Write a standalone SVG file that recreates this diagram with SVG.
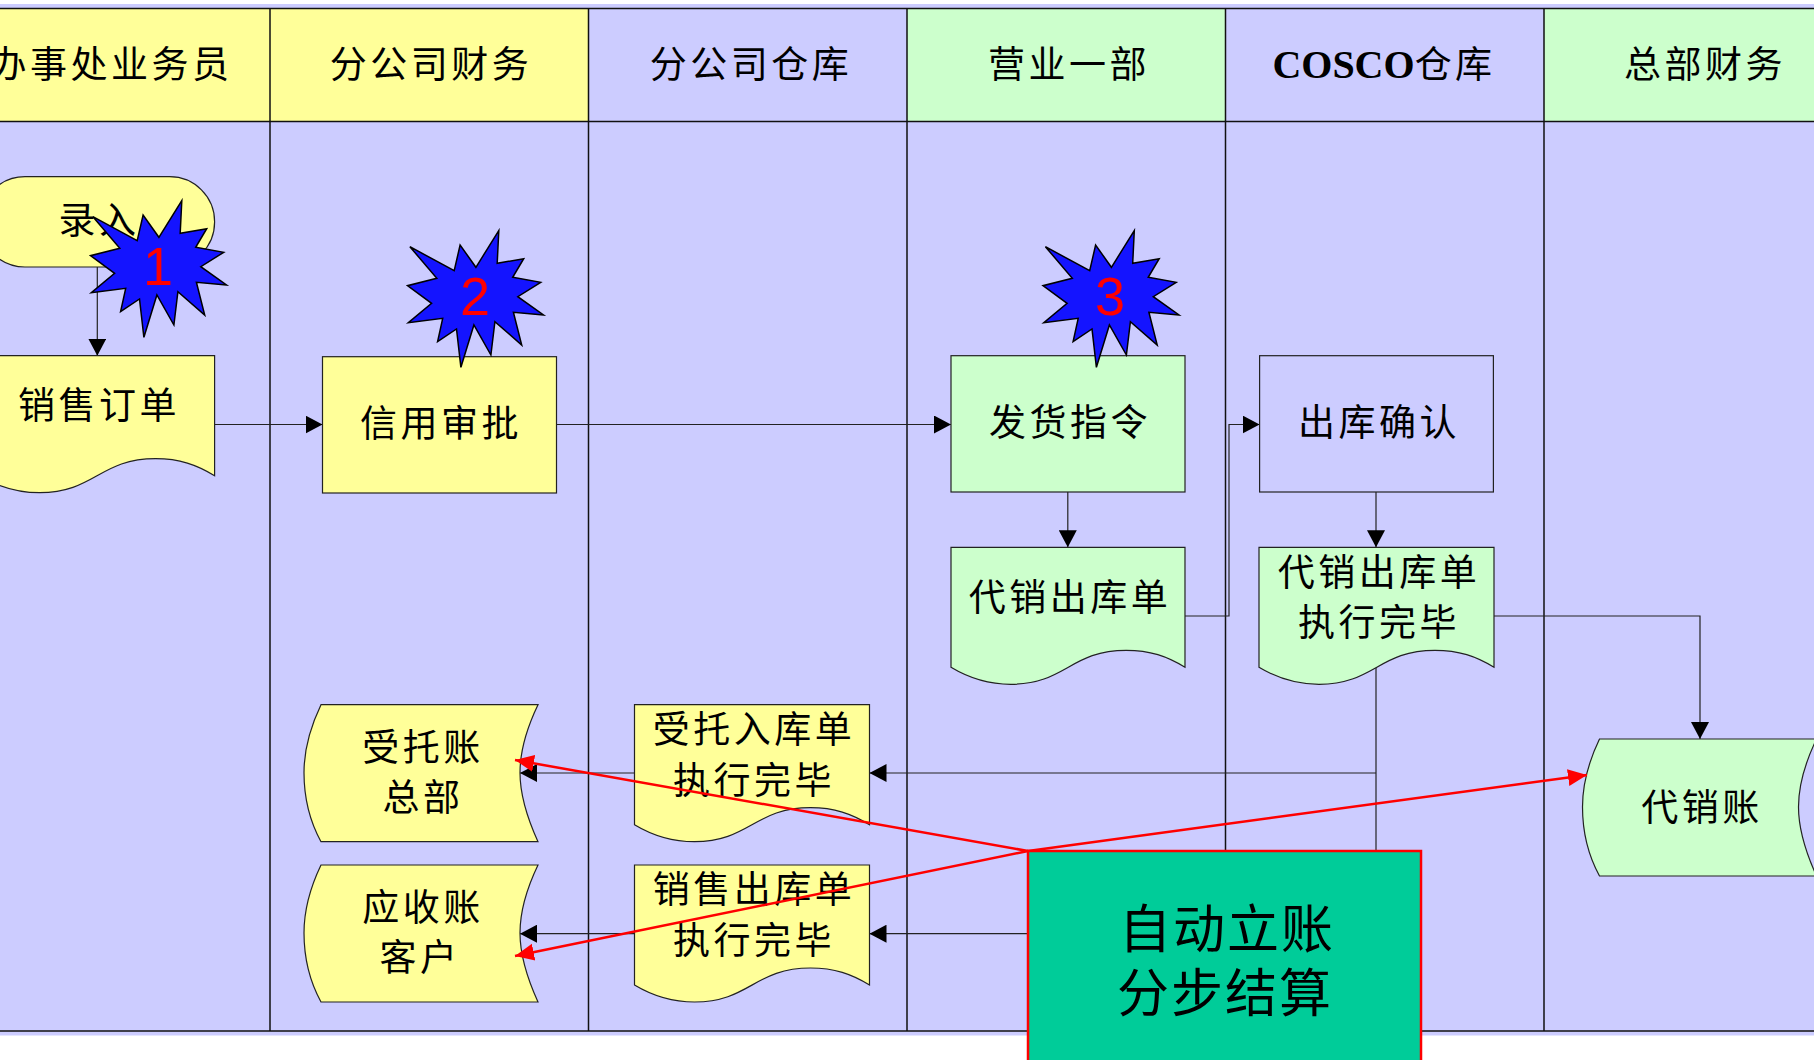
<svg xmlns="http://www.w3.org/2000/svg" width="1814" height="1060" viewBox="0 0 1814 1060">
<style>
.y{fill:#FFFF99}.g{fill:#CCFFCC}.l{fill:#CCCCFF}
.s{stroke:#222;stroke-width:1.2}
.t{font-family:"Noto Sans CJK SC","Noto Sans CJK JP",sans-serif;font-size:37px;letter-spacing:3.5px;text-anchor:middle;fill:#000}
.b{font-size:52px;letter-spacing:2px}
.c{font-family:"Liberation Serif",serif;font-weight:bold;font-size:40px;letter-spacing:0}
.n{font-family:"Liberation Sans",Arial,sans-serif;font-size:54px;fill:#FF0000;text-anchor:middle}
.k{fill:none;stroke:#222;stroke-width:1.2}
.r{fill:none;stroke:#FF0000;stroke-width:2.5}
.lane{fill:none;stroke:#111;stroke-width:1.5}
</style>
<defs>
<path id="doc" d="M0,0H235V120C217,109 200,103 176,103C120,103 115,137 60,137C40,137 20,132 0,120Z"/>
<path id="led" d="M17,0H234C222,25 216,48 216,68C216,90 224,115 234,137H17C5,115 0,90 0,68C0,45 5,25 17,0Z"/>
<polygon id="star" fill="#1414FF" stroke="#000" stroke-width="1.5" points="92.9,216.7 137.2,240.7 143.1,215 158.9,237.3 181.8,200.7 180.2,233.3 206.7,228.7 195.7,247.3 223.7,252.3 200.8,266.7 226.5,285 196.4,282.3 204.7,315 177.9,291.7 173.9,325 156.9,295 143.9,337.3 139.5,299 120.6,311.7 125.7,288.3 91.3,292.7 114.6,273.3 90.5,255.7 119.8,248.3"/>
<marker id="a" markerUnits="userSpaceOnUse" markerWidth="18" markerHeight="18" refX="17" refY="9" orient="auto"><path d="M0,0L17,9L0,18Z" fill="#000"/></marker>
<marker id="ar" markerUnits="userSpaceOnUse" markerWidth="20" markerHeight="20" refX="19" refY="10" orient="auto"><path d="M0,1.5L19,10L0,18.5Z" fill="#FF0000"/></marker>
</defs>
<g id="swimlanes">
<rect class="l" x="0" y="4" width="1814" height="1031.5"/>
<rect class="y" x="0" y="8.5" width="588.5" height="113"/>
<rect class="g" x="907" y="8.5" width="318.5" height="113"/>
<rect class="g" x="1544" y="8.5" width="270" height="113"/>
<path class="lane" d="M0,8.5H1814M0,121.5H1814M0,1031H1814M270,8.5V1031M588.5,8.5V1031M907,8.5V1031M1225.5,8.5V1031M1544,8.5V1031"/>
<text class="t" x="111" y="78">办事处业务员</text>
<text class="t" x="431" y="78">分公司财务</text>
<text class="t" x="751" y="78">分公司仓库</text>
<text class="t" x="1069" y="78">营业一部</text>
<text class="t" x="1384" y="78"><tspan class="c">COSCO</tspan>仓库</text>
<text class="t" x="1705" y="78">总部财务</text>
</g>
<g id="connectors">
<path class="k" d="M97.3,267V355.7" marker-end="url(#a)"/>
<path class="k" d="M214.6,424.5H322.5" marker-end="url(#a)"/>
<path class="k" d="M556.5,424.5H951" marker-end="url(#a)"/>
<path class="k" d="M1067.8,492V547.3" marker-end="url(#a)"/>
<path class="k" d="M1185,616H1229V424.5H1259.6" marker-end="url(#a)"/>
<path class="k" d="M1376,492V547.3" marker-end="url(#a)"/>
<path class="k" d="M1493,616H1700V739" marker-end="url(#a)"/>
<path class="k" d="M1376,660V860"/>
<path class="k" d="M1376,773H869.5" marker-end="url(#a)"/>
<path class="k" d="M634.5,773H520" marker-end="url(#a)"/>
<path class="k" d="M1028,933.7H869.5" marker-end="url(#a)"/>
<path class="k" d="M634.5,933.7H520" marker-end="url(#a)"/>
</g>
<g id="n-luru"><rect class="y s" x="-20" y="176.7" width="234.6" height="90.3" rx="45" ry="45"/><text class="t" x="99" y="234">录入</text></g>
<g id="n-xsdd"><use href="#doc" class="y s" x="-20.4" y="355.7"/><text class="t" x="99" y="419">销售订单</text></g>
<g id="n-xysp"><rect class="y s" x="322.5" y="356.7" width="234" height="136.3"/><text class="t" x="441" y="437">信用审批</text></g>
<g id="n-fhzl"><rect class="g s" x="951" y="355.7" width="234" height="136.3"/><text class="t" x="1070" y="436">发货指令</text></g>
<g id="n-dxckd"><use href="#doc" class="g s" x="951" y="547.3" transform="translate(951 0) scale(0.9957 1) translate(-951 0)"/><text class="t" x="1070" y="611">代销出库单</text></g>
<g id="n-ckqr"><rect class="l s" x="1259.6" y="355.7" width="233.8" height="136.3"/><text class="t" x="1379" y="436">出库确认</text></g>
<g id="n-dxwb"><use href="#doc" class="g s" x="1259" y="547.3"/><text class="t" x="1379" y="586">代销出库单</text><text class="t" x="1379" y="636">执行完毕</text></g>
<g id="n-stz"><use href="#led" class="y s" x="304" y="704.7"/><text class="t" x="423" y="760.5">受托账</text><text class="t" x="423" y="811">总部</text></g>
<g id="n-ysz"><use href="#led" class="y s" x="304" y="865"/><text class="t" x="423" y="921">应收账</text><text class="t" x="420" y="971">客户</text></g>
<g id="n-strk"><use href="#doc" class="y s" x="634.5" y="704.7"/><text class="t" x="754" y="743">受托入库单</text><text class="t" x="754" y="794">执行完毕</text></g>
<g id="n-xsck"><use href="#doc" class="y s" x="634.5" y="865"/><text class="t" x="754" y="903">销售出库单</text><text class="t" x="754" y="954">执行完毕</text></g>
<g id="n-dxz"><use href="#led" class="g s" x="1582.5" y="739"/><text class="t" x="1702" y="820.5">代销账</text></g>
<g id="n-star1"><use href="#star"/><text class="n" x="158" y="285">1</text></g>
<g id="n-star2"><use href="#star" x="317" y="30"/><text class="n" x="475" y="315">2</text></g>
<g id="n-star3"><use href="#star" x="952.5" y="30"/><text class="n" x="1110" y="315">3</text></g>
<g id="n-auto"><rect x="1028" y="851" width="393" height="230" fill="#00CC99" stroke="#FF0000" stroke-width="2.5"/><text class="t b" x="1227" y="948">自动立账</text><text class="t b" x="1225" y="1012">分步结算</text></g>
<g id="red-connectors">
<path class="r" d="M1028,851L515,760" marker-end="url(#ar)"/>
<path class="r" d="M1028,851L515,956" marker-end="url(#ar)"/>
<path class="r" d="M1028,851L1587,775" marker-end="url(#ar)"/>
</g>
</svg>
